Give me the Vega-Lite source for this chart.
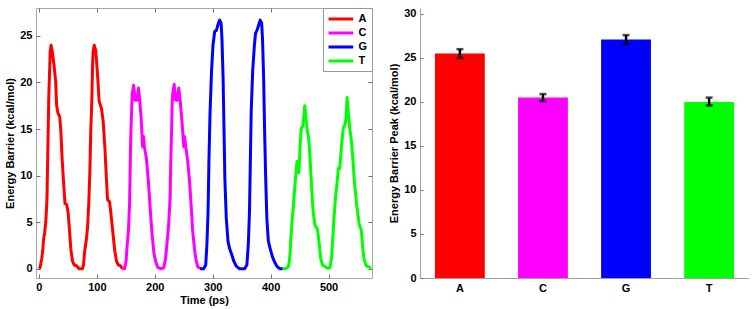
{
  "$schema": "https://vega.github.io/schema/vega-lite/v6.json",
  "padding": {"left": 4, "top": 7, "right": 5, "bottom": 0},
  "spacing": 15,
  "config": {
    "font": "Liberation Sans",
    "view": {"stroke": null},
    "axis": {
      "labelFont": "Liberation Sans", "labelFontWeight": "bold", "labelFontSize": 11, "labelColor": "#000",
      "titleFont": "Liberation Sans", "titleFontWeight": "bold", "titleFontSize": 11, "titleColor": "#000",
      "domainColor": "#a0a0a0", "tickColor": "#707070", "grid": false
    }
  },
  "resolve": {"scale": {"color": "independent"}, "legend": {"color": "independent"}},
  "hconcat": [
    {
      "width": 336, "height": 270,
      "view": {"stroke": "#a8a8a8"},
      "data": {"values": [
        {"t":0,"E":0,"b":"A"},{"t":2,"E":0.1,"b":"A"},{"t":5,"E":1.1,"b":"A"},{"t":7,"E":2.2,"b":"A"},{"t":8,"E":3.1,"b":"A"},{"t":10,"E":3.9,"b":"A"},{"t":12,"E":5.1,"b":"A"},{"t":14,"E":7.6,"b":"A"},{"t":15,"E":11.2,"b":"A"},{"t":16,"E":14.7,"b":"A"},{"t":17,"E":18.3,"b":"A"},{"t":18.5,"E":21.2,"b":"A"},{"t":19.5,"E":23.3,"b":"A"},{"t":21,"E":24,"b":"A"},{"t":23,"E":23.4,"b":"A"},{"t":26,"E":21.9,"b":"A"},{"t":29,"E":20.1,"b":"A"},{"t":30.5,"E":17.6,"b":"A"},{"t":33,"E":16.7,"b":"A"},{"t":36,"E":16.3,"b":"A"},{"t":38,"E":14.7,"b":"A"},{"t":40,"E":11.9,"b":"A"},{"t":42.5,"E":9.4,"b":"A"},{"t":45,"E":7,"b":"A"},{"t":48,"E":6.9,"b":"A"},{"t":50.5,"E":6,"b":"A"},{"t":53,"E":4,"b":"A"},{"t":55,"E":2.2,"b":"A"},{"t":58,"E":0.8,"b":"A"},{"t":61,"E":0.4,"b":"A"},{"t":65.5,"E":0.3,"b":"A"},{"t":69,"E":0,"b":"A"},{"t":75,"E":0,"b":"A"},{"t":77,"E":0.4,"b":"A"},{"t":79,"E":1.9,"b":"A"},{"t":81.5,"E":2.9,"b":"A"},{"t":84,"E":4.4,"b":"A"},{"t":86,"E":6.9,"b":"A"},{"t":88,"E":10.4,"b":"A"},{"t":89.5,"E":14.7,"b":"A"},{"t":91.5,"E":18.3,"b":"A"},{"t":92.5,"E":21.5,"b":"A"},{"t":93.5,"E":23.3,"b":"A"},{"t":95.5,"E":24,"b":"A"},{"t":98,"E":23.5,"b":"A"},{"t":100,"E":21.9,"b":"A"},{"t":102,"E":20.1,"b":"A"},{"t":104,"E":18,"b":"A"},{"t":108,"E":17.2,"b":"A"},{"t":111,"E":15.8,"b":"A"},{"t":114,"E":12.9,"b":"A"},{"t":116.5,"E":9.7,"b":"A"},{"t":118.5,"E":7.4,"b":"A"},{"t":122,"E":7.2,"b":"A"},{"t":124,"E":6.1,"b":"A"},{"t":127.5,"E":4,"b":"A"},{"t":131,"E":1.9,"b":"A"},{"t":134,"E":0.8,"b":"A"},{"t":137,"E":0.4,"b":"A"},{"t":141,"E":0.3,"b":"A"},{"t":144,"E":0,"b":"A"},
        {"t":144,"E":0,"b":"C"},{"t":148,"E":0,"b":"C"},{"t":150.5,"E":0.8,"b":"C"},{"t":152,"E":2.2,"b":"C"},{"t":154.5,"E":4,"b":"C"},{"t":156.5,"E":6.9,"b":"C"},{"t":157.5,"E":10.4,"b":"C"},{"t":158.5,"E":14,"b":"C"},{"t":160,"E":16.9,"b":"C"},{"t":161,"E":18.7,"b":"C"},{"t":163.5,"E":19.7,"b":"C"},{"t":166,"E":18.1,"b":"C"},{"t":169.5,"E":18.1,"b":"C"},{"t":172,"E":19.4,"b":"C"},{"t":174,"E":18.1,"b":"C"},{"t":176.5,"E":16.2,"b":"C"},{"t":179,"E":13.1,"b":"C"},{"t":181,"E":14.2,"b":"C"},{"t":182,"E":13.1,"b":"C"},{"t":185.5,"E":11.9,"b":"C"},{"t":189,"E":9.4,"b":"C"},{"t":192.5,"E":6.1,"b":"C"},{"t":195.5,"E":3.6,"b":"C"},{"t":198.5,"E":1.7,"b":"C"},{"t":201.5,"E":0.8,"b":"C"},{"t":205,"E":0.15,"b":"C"},{"t":210,"E":0,"b":"C"},{"t":215.5,"E":0.1,"b":"C"},{"t":218.5,"E":1,"b":"C"},{"t":221,"E":2.6,"b":"C"},{"t":224,"E":4.7,"b":"C"},{"t":226.5,"E":7.6,"b":"C"},{"t":227.5,"E":11.2,"b":"C"},{"t":229,"E":14.7,"b":"C"},{"t":230,"E":17.6,"b":"C"},{"t":231,"E":18.8,"b":"C"},{"t":233.5,"E":19.8,"b":"C"},{"t":236,"E":18.1,"b":"C"},{"t":239,"E":18.1,"b":"C"},{"t":241.5,"E":19.4,"b":"C"},{"t":244,"E":18,"b":"C"},{"t":247,"E":15.8,"b":"C"},{"t":250,"E":13.1,"b":"C"},{"t":251.5,"E":14.2,"b":"C"},{"t":253.5,"E":13.1,"b":"C"},{"t":257,"E":11.5,"b":"C"},{"t":260.5,"E":9,"b":"C"},{"t":263.5,"E":6.1,"b":"C"},{"t":265.5,"E":4,"b":"C"},{"t":268.5,"E":2.2,"b":"C"},{"t":271,"E":1,"b":"C"},{"t":274,"E":0.25,"b":"C"},{"t":278,"E":0,"b":"C"},
        {"t":278,"E":0,"b":"G"},{"t":284.5,"E":0,"b":"G"},{"t":288,"E":0.4,"b":"G"},{"t":290,"E":2.6,"b":"G"},{"t":292,"E":6.1,"b":"G"},{"t":293.5,"E":11.5,"b":"G"},{"t":295.5,"E":16.9,"b":"G"},{"t":298,"E":21.2,"b":"G"},{"t":300.5,"E":24,"b":"G"},{"t":303.5,"E":25.5,"b":"G"},{"t":306.5,"E":25.6,"b":"G"},{"t":309,"E":26.2,"b":"G"},{"t":312,"E":26.7,"b":"G"},{"t":314.5,"E":26.4,"b":"G"},{"t":316,"E":24.7,"b":"G"},{"t":318,"E":20.4,"b":"G"},{"t":319.5,"E":15.1,"b":"G"},{"t":321,"E":9.7,"b":"G"},{"t":323.5,"E":5.4,"b":"G"},{"t":326.5,"E":2.9,"b":"G"},{"t":329,"E":2.2,"b":"G"},{"t":333,"E":1.5,"b":"G"},{"t":336.5,"E":0.8,"b":"G"},{"t":341,"E":0.25,"b":"G"},{"t":346.5,"E":0,"b":"G"},{"t":355,"E":0,"b":"G"},{"t":359,"E":0.4,"b":"G"},{"t":361.5,"E":2.6,"b":"G"},{"t":363.5,"E":6.1,"b":"G"},{"t":365,"E":11.5,"b":"G"},{"t":366.5,"E":16.9,"b":"G"},{"t":369,"E":21.2,"b":"G"},{"t":372,"E":24,"b":"G"},{"t":374,"E":25.3,"b":"G"},{"t":376.5,"E":25.6,"b":"G"},{"t":379.5,"E":26.2,"b":"G"},{"t":382,"E":26.7,"b":"G"},{"t":384.5,"E":26.4,"b":"G"},{"t":386,"E":24.7,"b":"G"},{"t":388,"E":20.4,"b":"G"},{"t":389.5,"E":15.1,"b":"G"},{"t":391.5,"E":9.7,"b":"G"},{"t":393.5,"E":5.4,"b":"G"},{"t":396,"E":3,"b":"G"},{"t":399,"E":2.2,"b":"G"},{"t":403,"E":1.3,"b":"G"},{"t":407,"E":0.7,"b":"G"},{"t":411,"E":0.25,"b":"G"},{"t":415.5,"E":0,"b":"G"},{"t":421,"E":0,"b":"G"},
        {"t":421,"E":0,"b":"T"},{"t":426.5,"E":0,"b":"T"},{"t":431,"E":0.25,"b":"T"},{"t":433.5,"E":1.5,"b":"T"},{"t":435,"E":3.3,"b":"T"},{"t":436.5,"E":4.7,"b":"T"},{"t":439,"E":6.5,"b":"T"},{"t":441.5,"E":8.6,"b":"T"},{"t":443.5,"E":10.1,"b":"T"},{"t":445.5,"E":11.5,"b":"T"},{"t":447.5,"E":11.5,"b":"T"},{"t":448.5,"E":10.3,"b":"T"},{"t":449.5,"E":11.2,"b":"T"},{"t":451,"E":13.3,"b":"T"},{"t":453,"E":15.1,"b":"T"},{"t":455.5,"E":15.3,"b":"T"},{"t":457.5,"E":16.5,"b":"T"},{"t":459,"E":17.5,"b":"T"},{"t":461,"E":16.2,"b":"T"},{"t":463.5,"E":14.7,"b":"T"},{"t":465.5,"E":14.2,"b":"T"},{"t":468,"E":11.9,"b":"T"},{"t":471,"E":8.6,"b":"T"},{"t":473.5,"E":6.1,"b":"T"},{"t":476.5,"E":4.7,"b":"T"},{"t":481,"E":4.2,"b":"T"},{"t":484,"E":2.6,"b":"T"},{"t":486.5,"E":1.1,"b":"T"},{"t":489.5,"E":0.4,"b":"T"},{"t":494.5,"E":0.2,"b":"T"},{"t":499,"E":0.05,"b":"T"},{"t":502.5,"E":0.1,"b":"T"},{"t":505,"E":1.1,"b":"T"},{"t":507,"E":2.9,"b":"T"},{"t":509,"E":5.1,"b":"T"},{"t":512,"E":7.6,"b":"T"},{"t":515,"E":9.4,"b":"T"},{"t":517,"E":10.8,"b":"T"},{"t":519.5,"E":10.8,"b":"T"},{"t":520.5,"E":11.7,"b":"T"},{"t":523,"E":13.7,"b":"T"},{"t":525.5,"E":15.1,"b":"T"},{"t":529,"E":15.6,"b":"T"},{"t":530.5,"E":16.5,"b":"T"},{"t":532,"E":18.4,"b":"T"},{"t":534.5,"E":16.5,"b":"T"},{"t":536.5,"E":15.1,"b":"T"},{"t":539,"E":14,"b":"T"},{"t":541.5,"E":12.2,"b":"T"},{"t":544.5,"E":9.4,"b":"T"},{"t":548.5,"E":6.9,"b":"T"},{"t":553,"E":4.7,"b":"T"},{"t":556.5,"E":4.2,"b":"T"},{"t":558.5,"E":2.6,"b":"T"},{"t":561,"E":1.1,"b":"T"},{"t":564.5,"E":0.35,"b":"T"},{"t":569,"E":0.2,"b":"T"},{"t":573.5,"E":0.05,"b":"T"}
      ]},
      "resolve": {"axis": {"x": "independent", "y": "independent"}},
      "layer": [
        {
          "mark": {"type": "line", "strokeWidth": 3, "strokeJoin": "round", "clip": true},
          "encoding": {
            "x": {"field": "t", "type": "quantitative", "scale": {"domain": [-5, 575], "nice": false, "zero": false},
                  "axis": {"title": "Time (ps)", "values": [0, 100, 200, 300, 400, 500], "tickSize": -4, "labelPadding": 7, "titlePadding": 2, "domain": false}},
            "y": {"field": "E", "type": "quantitative", "scale": {"domain": [-1, 28], "nice": false, "zero": false},
                  "axis": {"title": "Energy Barrier (kcal/mol)", "values": [0, 5, 10, 15, 20, 25], "tickSize": -4, "labelPadding": 8, "titlePadding": 4, "domain": false}},
            "color": {"field": "b", "type": "nominal",
                      "scale": {"domain": ["A", "C", "G", "T"], "range": ["#ff0000", "#ff00ff", "#0000ff", "#00ff00"]},
                      "legend": {"title": null, "orient": "top-right", "offset": 0, "padding": 4, "strokeColor": "#999", "fillColor": "#ffffff",
                                 "symbolType": "M-1,0H3.5", "symbolSize": 121, "symbolStrokeWidth": 3, "rowPadding": 1, "labelOffset": 17.5,
                                 "labelFont": "Liberation Sans", "labelFontWeight": "bold", "labelFontSize": 11, "labelColor": "#000"}}
          }
        },
        {
          "mark": {"type": "line", "opacity": 0},
          "encoding": {
            "x": {"field": "t", "type": "quantitative", "axis": {"orient": "top", "title": null, "labels": false, "domain": false, "values": [0, 100, 200, 300, 400, 500], "tickSize": -4}},
            "y": {"field": "E", "type": "quantitative", "axis": {"orient": "right", "title": null, "labels": false, "domain": false, "values": [0, 5, 10, 15, 20, 25], "tickSize": -4}},
            "color": {"field": "b", "type": "nominal"}
          }
        }
      ]
    },
    {
      "width": 329, "height": 270,
      "data": {"values": [
        {"base": "A", "peak": 25.5, "lo": 25.0, "hi": 26.0},
        {"base": "C", "peak": 20.5, "lo": 20.1, "hi": 20.9},
        {"base": "G", "peak": 27.1, "lo": 26.6, "hi": 27.6},
        {"base": "T", "peak": 20.0, "lo": 19.6, "hi": 20.5}
      ]},
      "encoding": {
        "x": {"field": "base", "type": "nominal", "sort": ["A", "C", "G", "T"],
              "scale": {"paddingInner": 0.4, "paddingOuter": 0.18},
              "axis": {"title": null, "labelAngle": 0, "ticks": false, "labelPadding": 4}}
      },
      "layer": [
        {
          "mark": {"type": "bar"},
          "encoding": {
            "y": {"field": "peak", "type": "quantitative", "scale": {"domain": [0, 30.68], "nice": false},
                  "axis": {"title": "Energy Barrier Peak (kcal/mol)", "values": [0, 5, 10, 15, 20, 25, 30], "tickSize": -3, "labelPadding": 7, "titlePadding": 4}},
            "color": {"field": "base", "type": "nominal",
                      "scale": {"domain": ["A", "C", "G", "T"], "range": ["#ff0000", "#ff00ff", "#0000ff", "#00ff00"]}, "legend": null}
          }
        },
        {
          "mark": {"type": "rule", "color": "#000", "strokeWidth": 2.5},
          "encoding": {"y": {"field": "lo", "type": "quantitative"}, "y2": {"field": "hi"}}
        },
        {
          "mark": {"type": "tick", "color": "#000", "size": 7, "thickness": 2.5},
          "encoding": {"y": {"field": "lo", "type": "quantitative"}}
        },
        {
          "mark": {"type": "tick", "color": "#000", "size": 7, "thickness": 2.5},
          "encoding": {"y": {"field": "hi", "type": "quantitative"}}
        }
      ]
    }
  ]
}
